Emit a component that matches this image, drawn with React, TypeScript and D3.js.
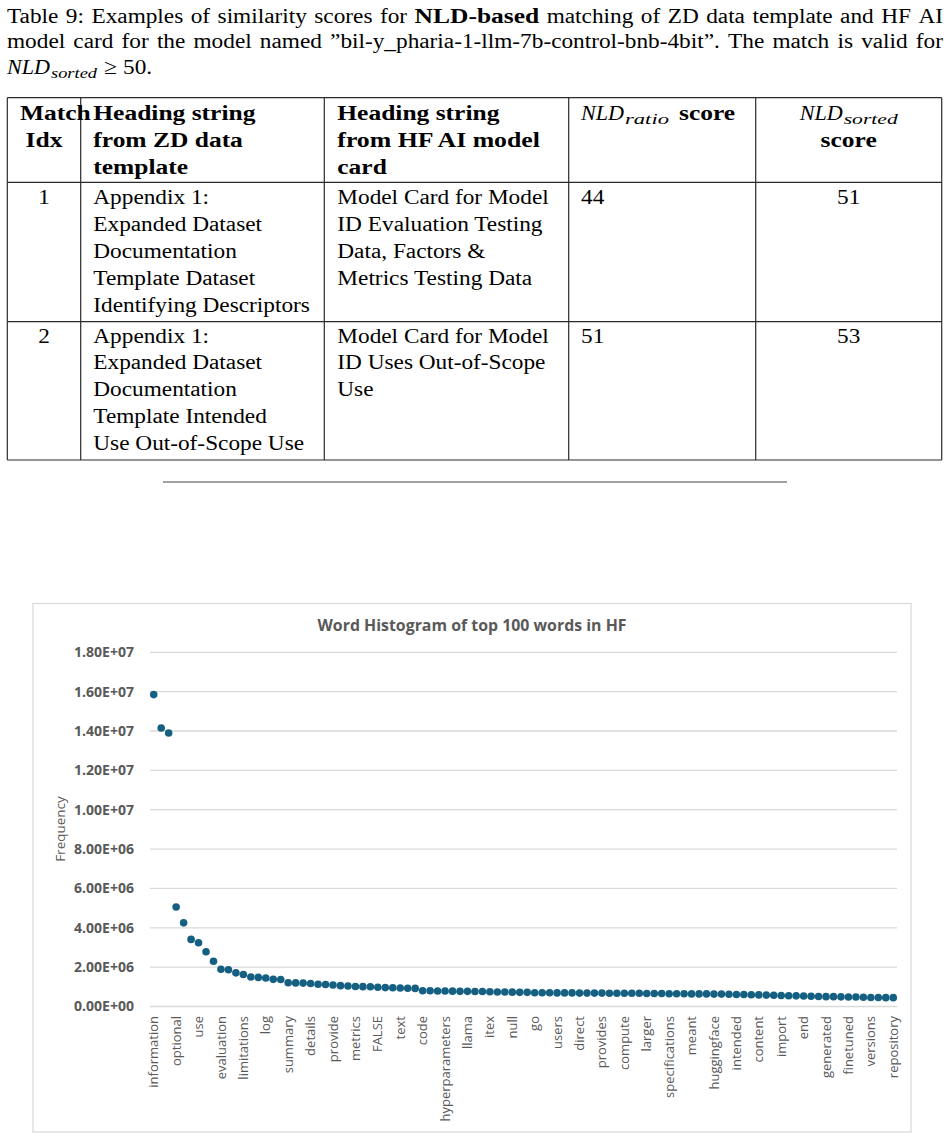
import React from "react";
import * as d3 from "d3";

// ---------------- DATA ----------------
const captionLine1 = [
  { t: "Table" }, { t: "9:" }, { t: "Examples" }, { t: "of" }, { t: "similarity" }, { t: "scores" },
  { t: "for" }, { t: "NLD-based", b: true }, { t: "matching" }, { t: "of" }, { t: "ZD" }, { t: "data" },
  { t: "template" }, { t: "and" }, { t: "HF" }, { t: "AI" },
];
const captionLine2 = [
  { t: "model" }, { t: "card" }, { t: "for" }, { t: "the" }, { t: "model" }, { t: "named" },
  { t: "\u201Dbil-y_pharia-1-llm-7b-control-bnb-4bit\u201D." }, { t: "The" }, { t: "match" },
  { t: "is" }, { t: "valid" }, { t: "for" },
];
const validThreshold = 50;

const headerIdx = ["Match", "Idx"];
const headerZD = ["Heading string", "from ZD data", "template"];
const headerHF = ["Heading string", "from HF AI model", "card"];

const matchIdx = ["1", "2"];
const zdHeadings = [
  ["Appendix 1:", "Expanded Dataset", "Documentation", "Template Dataset", "Identifying Descriptors"],
  ["Appendix 1:", "Expanded Dataset", "Documentation", "Template Intended", "Use Out-of-Scope Use"],
];
const hfHeadings = [
  ["Model Card for Model", "ID Evaluation Testing", "Data, Factors &", "Metrics Testing Data"],
  ["Model Card for Model", "ID Uses Out-of-Scope", "Use"],
];
const nldRatio = [44, 51];
const nldSorted = [51, 53];

const chartTitle = "Word Histogram of top 100 words in HF";
const yAxisTitle = "Frequency";
// every third word of the top 100 is labelled on the axis
const shownWords = [
  "information", "optional", "use", "evaluation", "limitations", "log", "summary", "details",
  "provide", "metrics", "FALSE", "text", "code", "hyperparameters", "llama", "itex", "null",
  "go", "users", "direct", "provides", "compute", "larger", "specifications", "meant",
  "huggingface", "intended", "content", "import", "end", "generated", "finetuned", "versions",
  "repository",
];
const labelEvery = 3;
// word frequencies (millions), ranks 1..100
const frequenciesM = [
  15.85, 14.15, 13.9, 5.06, 4.25, 3.41, 3.24, 2.78, 2.3, 1.89,
  1.87, 1.71, 1.63, 1.5, 1.48, 1.45, 1.38, 1.37, 1.21, 1.2,
  1.19, 1.17, 1.13, 1.12, 1.09, 1.06, 1.04, 1.02, 1.01, 1.0,
  0.98, 0.96, 0.95, 0.94, 0.93, 0.92, 0.8, 0.8, 0.79, 0.79,
  0.78, 0.77, 0.77, 0.76, 0.76, 0.75, 0.74, 0.74, 0.73, 0.72,
  0.72, 0.7, 0.7, 0.7, 0.69, 0.69, 0.69, 0.68, 0.68, 0.68,
  0.68, 0.67, 0.67, 0.67, 0.67, 0.67, 0.66, 0.66, 0.66, 0.65,
  0.65, 0.65, 0.64, 0.64, 0.64, 0.63, 0.63, 0.62, 0.61, 0.61,
  0.6, 0.59, 0.58, 0.57, 0.56, 0.55, 0.54, 0.53, 0.52, 0.51,
  0.5, 0.5, 0.49, 0.48, 0.48, 0.47, 0.46, 0.46, 0.45, 0.45,
];
const yMax = 1.8e7;
const yStep = 2e6;

// ---------------- HELPERS ----------------
const SERIF = "'Liberation Serif', 'Times New Roman', serif";
const SANS = "'Open Sans', 'Noto Sans', sans-serif";
const FS = 21.6;
let _ctx: CanvasRenderingContext2D | null = null;
function measure(text: string, font: string): number {
  if (!_ctx) _ctx = document.createElement("canvas").getContext("2d");
  if (!_ctx) return text.length * 10;
  _ctx.font = font;
  return _ctx.measureText(text).width;
}
function serifFont(size: number, b?: boolean, i?: boolean) {
  return `${i ? "italic " : ""}${b ? "bold " : ""}${size}px 'Liberation Serif'`;
}
function stretch(b?: boolean, i?: boolean) {
  return b ? 1.18 : i ? 1.1 : 1.078;
}
function segWidth(t: string, b?: boolean, i?: boolean, size = FS) {
  return measure(t, serifFont(size, b, i)) * stretch(b, i);
}

function ST(props: { x: number; y: number; t: string; b?: boolean; i?: boolean; size?: number; anchor?: string; w?: number }) {
  const size = props.size ?? FS;
  const w = props.w ?? segWidth(props.t, props.b, props.i, size);
  return (
    <text
      x={props.x}
      y={props.y}
      fontFamily={SERIF}
      fontSize={size}
      fontWeight={props.b ? "bold" : "normal"}
      fontStyle={props.i ? "italic" : "normal"}
      textAnchor={props.anchor ?? "start"}
      textLength={w}
      lengthAdjust="spacingAndGlyphs"
      fill="#000"
    >
      {props.t}
    </text>
  );
}

function Justified({ words, x0, x1, y }: { words: { t: string; b?: boolean }[]; x0: number; x1: number; y: number }) {
  const widths = words.map((w) => segWidth(w.t, w.b));
  const total = d3.sum(widths);
  const gap = (x1 - x0 - total) / (words.length - 1);
  let x = x0;
  return (
    <g>
      {words.map((w, k) => {
        const el = <ST key={k} x={x} y={y} t={w.t} b={w.b} w={widths[k]} />;
        x += widths[k] + gap;
        return el;
      })}
    </g>
  );
}

// NLD with subscript
function NLD({ x, y, sub, anchor }: { x: number; y: number; sub: string; anchor?: "middle" | "start" }) {
  const wMain = 43;
  const subSize = 15.5;
  const wSub = sub === "ratio" ? 44 : 54;
  const total = wMain + wSub + 1;
  const sx = anchor === "middle" ? x - total / 2 : x;
  return (
    <g>
      <ST x={sx} y={y} t="NLD" i w={wMain} />
      <ST x={sx + wMain + 1} y={y + 4} t={sub} i size={subSize} w={wSub} />
    </g>
  );
}

function fmtExcel(v: number) {
  const [m, e] = v.toExponential(2).split("e");
  const sign = e[0] === "-" ? "-" : "+";
  const digits = e.replace(/[+-]/, "").padStart(2, "0");
  return `${m}E${sign}${digits}`;
}

// ---------------- APP ----------------
export default function App() {
  const frequencies = frequenciesM.map((v) => v * 1e6);
  const idx = d3.range(frequencies.length);

  // table geometry
  const tTop = 97.7, tHead = 182.3, tRow1 = 321.7, tBot = 460;
  const colX = [7.3, 80.7, 324.3, 568.7, 755.7, 941.7];
  const lh = 26.9;
  const rowBase = [204, 342.5];
  const c1 = (colX[0] + colX[1]) / 2;
  const c5 = (colX[4] + colX[5]) / 2;

  // chart geometry
  const frame = { x: 33, y: 603.5, w: 878, h: 528.5 };
  const plot = { left: 150, right: 897, top: 652.3, bottom: 1006.5 };
  const x = d3.scaleBand<number>().domain(idx).range([plot.left, plot.right]);
  const y = d3.scaleLinear().domain([0, yMax]).range([plot.bottom, plot.top]);
  const yTicks = d3.range(0, yMax + 1, yStep);
  const cx = (i: number) => (x(i) ?? 0) + x.bandwidth() / 2;

  const lineStroke = "#2b2b2b";
  const grey = "#595959";

  return (
    <div style={{ position: "absolute", left: 0, top: 0 }}>
      <svg width={950} height={1139} style={{ display: "block", background: "#fff" }}>
        {/* caption */}
        <Justified words={captionLine1} x0={7} x1={943} y={22.7} />
        <Justified words={captionLine2} x0={7} x1={943} y={48.3} />
        <g>
          <ST x={7} y={74} t="NLD" i w={43} />
          <ST x={51} y={78} t="sorted" i size={15.5} w={46} />
          <ST x={104} y={74} t={"\u2265"} w={13} />
          <ST x={123} y={74} t={`${validThreshold}.`} />
        </g>

        {/* table lines */}
        <g stroke={lineStroke} strokeWidth={1.2}>
          <line x1={colX[0]} x2={colX[5]} y1={tTop} y2={tTop} />
          <line x1={colX[0]} x2={colX[5]} y1={tHead} y2={tHead} />
          <line x1={colX[0]} x2={colX[5]} y1={tRow1} y2={tRow1} />
          <line x1={colX[0]} x2={colX[5]} y1={tBot} y2={tBot} />
          {colX.map((cx0, k) => (
            <line key={k} x1={cx0} x2={cx0} y1={tTop} y2={tBot} />
          ))}
        </g>

        {/* header */}
        <ST x={20} y={120} t={headerIdx[0]} b />
        <ST x={c1} y={120 + lh} t={headerIdx[1]} b anchor="middle" />
        {headerZD.map((s, k) => (
          <ST key={"hz" + k} x={93.3} y={120 + k * lh} t={s} b />
        ))}
        {headerHF.map((s, k) => (
          <ST key={"hh" + k} x={337.3} y={120 + k * lh} t={s} b />
        ))}
        <NLD x={581} y={120} sub="ratio" />
        <ST x={679} y={120} t="score" b />
        <NLD x={c5} y={120} sub="sorted" anchor="middle" />
        <ST x={c5} y={120 + lh} t="score" b anchor="middle" />

        {/* rows */}
        {matchIdx.map((m, r) => (
          <g key={"row" + r}>
            <ST x={c1} y={rowBase[r]} t={m} anchor="middle" />
            {zdHeadings[r].map((s, k) => (
              <ST key={"z" + k} x={93.3} y={rowBase[r] + k * lh} t={s} />
            ))}
            {hfHeadings[r].map((s, k) => (
              <ST key={"h" + k} x={337.3} y={rowBase[r] + k * lh} t={s} />
            ))}
            <ST x={581} y={rowBase[r]} t={String(nldRatio[r])} />
            <ST x={c5} y={rowBase[r]} t={String(nldSorted[r])} anchor="middle" />
          </g>
        ))}

        {/* horizontal rule */}
        <line x1={163} x2={787} y1={482} y2={482} stroke="#444" strokeWidth={1.1} />

        {/* chart frame */}
        <rect x={frame.x} y={frame.y} width={frame.w} height={frame.h} fill="#fff" stroke="#d9d9d9" strokeWidth={1.2} />
        <text
          x={472}
          y={631}
          textAnchor="middle"
          fontFamily={SANS}
          fontWeight={700}
          fontSize={16.5}
          fill={grey}
          textLength={309}
          lengthAdjust="spacingAndGlyphs"
        >
          {chartTitle}
        </text>

        {/* gridlines + y ticks */}
        {yTicks.map((t) => (
          <g key={"yt" + t}>
            <line x1={plot.left} x2={plot.right} y1={y(t)} y2={y(t)} stroke="#d9d9d9" strokeWidth={1.3} />
            <text
              x={134}
              y={y(t)}
              dy="0.36em"
              textAnchor="end"
              fontFamily={SANS}
              fontWeight={700}
              fontSize={13.5}
              fill={grey}
              textLength={60}
              lengthAdjust="spacingAndGlyphs"
            >
              {fmtExcel(t)}
            </text>
          </g>
        ))}

        <text
          transform={`translate(60, 829) rotate(-90)`}
          textAnchor="middle"
          dy="0.35em"
          fontFamily={SANS}
          fontWeight={500}
          fontSize={13.5}
          fill={grey}
        >
          {yAxisTitle}
        </text>

        {/* x labels */}
        {shownWords.map((w, k) => (
          <text
            key={"xl" + k}
            transform={`translate(${cx(k * labelEvery)}, 1016) rotate(-90)`}
            textAnchor="end"
            dy="0.35em"
            fontFamily={SANS}
            fontWeight={500}
            fontSize={13}
            fill={grey}
          >
            {w}
          </text>
        ))}

        {/* points */}
        {frequencies.map((v, i) => (
          <circle key={"p" + i} cx={cx(i)} cy={y(v)} r={3.8} fill="#156082" />
        ))}
      </svg>
    </div>
  );
}
